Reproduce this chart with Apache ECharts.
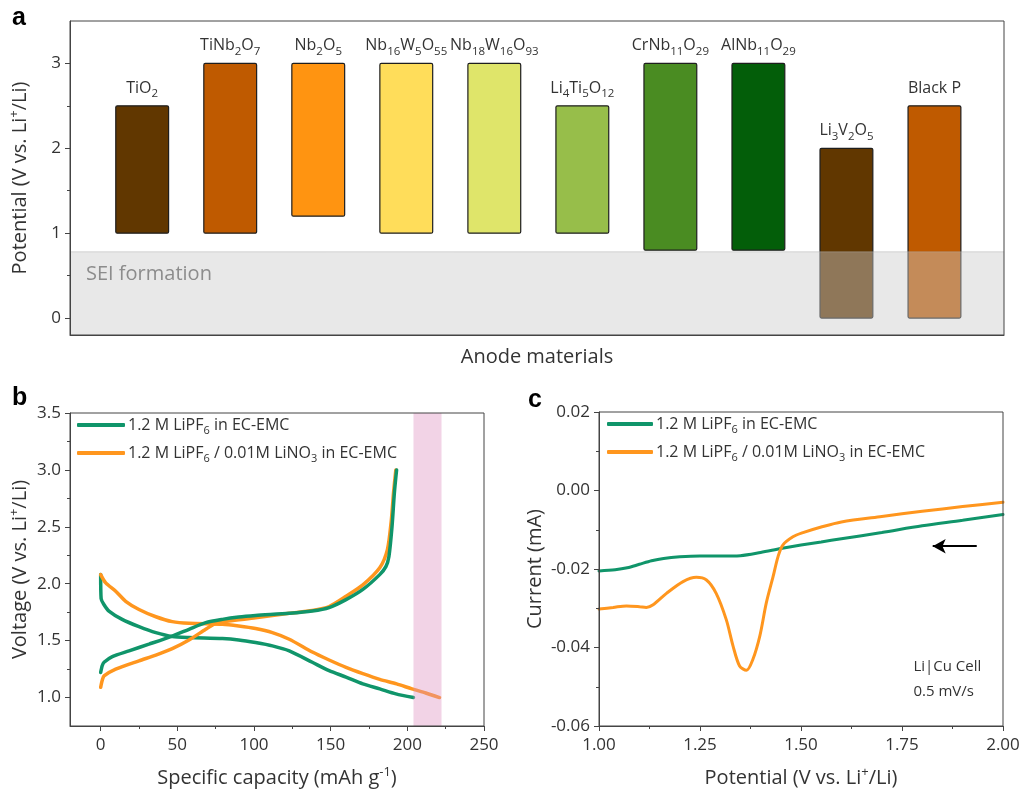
<!DOCTYPE html>
<html><head><meta charset="utf-8">
<script src="https://cdn.jsdelivr.net/npm/echarts@6/dist/echarts.min.js"></script>
<style>html,body{margin:0;padding:0;background:#fff}#c{width:1035px;height:791px}</style>
</head><body><div id="c"></div>
<script>
// ---------- Panel a data ----------
const materials = ['TiO{s|2}', 'TiNb{s|2}O{s|7}', 'Nb{s|2}O{s|5}', 'Nb{s|16}W{s|5}O{s|55}', 'Nb{s|18}W{s|16}O{s|93}',
  'Li{s|4}Ti{s|5}O{s|12}', 'CrNb{s|11}O{s|29}', 'AlNb{s|11}O{s|29}', 'Li{s|3}V{s|2}O{s|5}', 'Black P'];
const potentialLow  = [1.0, 1.0, 1.2, 1.0, 1.0, 1.0, 0.8, 0.8, 0.0, 0.0];
const potentialHigh = [2.5, 3.0, 3.0, 3.0, 3.0, 2.5, 3.0, 3.0, 2.0, 2.5];
const barColors = ['#613700', '#BF5A00', '#FF9411', '#FFDD5A', '#DFE56A', '#97BE4A', '#4A8C22', '#035E09', '#613700', '#BF5A00'];
const seiRange = [-0.2, 0.78];
const yTicksA = [0, 1, 2, 3];
const yMinorA = [0.5, 1.5, 2.5];

// ---------- Panel b data ----------
const capGreenDis = [0, 0.3, 2, 5.4, 14, 25, 36, 46.7, 57.6, 79.4, 90, 101, 112, 123, 138, 149, 160, 171, 182, 192.5, 204];
const voltGreenDis = [2.08, 1.87, 1.82, 1.76, 1.687, 1.623, 1.57, 1.536, 1.527, 1.518, 1.506, 1.483, 1.454, 1.41, 1.31, 1.236, 1.18, 1.12, 1.076, 1.032, 1.0];
const capGreenChg = [0, 1, 2.2, 7.6, 18.5, 31.5, 46.7, 57.6, 68.5, 79.4, 90, 101, 123, 138, 149, 160, 171, 182, 186, 188, 190, 191.5, 193];
const voltGreenChg = [1.22, 1.28, 1.31, 1.36, 1.41, 1.469, 1.54, 1.60, 1.658, 1.687, 1.707, 1.72, 1.74, 1.76, 1.79, 1.86, 1.95, 2.08, 2.15, 2.24, 2.50, 2.79, 3.0];
const capOrangeDis = [0, 3.3, 9.8, 16.3, 25, 36, 46.7, 57.6, 79.4, 90, 101, 112, 123, 138, 149, 160, 171, 182, 193, 203, 212, 221];
const voltOrangeDis = [2.08, 2.007, 1.934, 1.846, 1.774, 1.71, 1.667, 1.652, 1.643, 1.628, 1.606, 1.57, 1.512, 1.40, 1.33, 1.265, 1.21, 1.16, 1.12, 1.076, 1.04, 1.0];
const capOrangeChg = [0, 1, 2.2, 9.8, 25, 36, 46.7, 57.6, 68.5, 75, 83.7, 101, 123, 138, 149, 160, 171, 182, 187, 189.5, 191, 192.5];
const voltOrangeChg = [1.09, 1.15, 1.19, 1.25, 1.323, 1.373, 1.43, 1.506, 1.60, 1.652, 1.672, 1.70, 1.74, 1.765, 1.80, 1.89, 1.99, 2.14, 2.30, 2.55, 2.80, 3.0];
const pinkBand = [204, 222.3];
const yTicksB = [1.0, 1.5, 2.0, 2.5, 3.0, 3.5];
const yMinorB = [1.25, 1.75, 2.25, 2.75, 3.25];
const xTicksB = [0, 50, 100, 150, 200, 250];
const xMinorB = [25, 75, 125, 175, 225];

// ---------- Panel c data ----------
const potGreen = [1.00, 1.04, 1.07, 1.10, 1.13, 1.16, 1.20, 1.25, 1.30, 1.35, 1.40, 1.45, 1.50, 1.55, 1.60, 1.70, 1.80, 1.90, 2.00];
const curGreen = [-0.0205, -0.0202, -0.0197, -0.0188, -0.0179, -0.0173, -0.0169, -0.0167, -0.0167, -0.0166, -0.0158, -0.0148, -0.0139, -0.0131, -0.0123, -0.0107, -0.0090, -0.0076, -0.0061];
const potOrange = [1.000, 1.035, 1.068, 1.100, 1.117, 1.134, 1.167, 1.208, 1.241, 1.266, 1.290, 1.315, 1.332, 1.348, 1.365, 1.381, 1.398, 1.414, 1.431, 1.443, 1.455, 1.480, 1.503, 1.550, 1.600, 1.700, 1.800, 1.900, 2.000];
const curOrange = [-0.0302, -0.0298, -0.0294, -0.0296, -0.0298, -0.0291, -0.0262, -0.0232, -0.0221, -0.0228, -0.0262, -0.0329, -0.0397, -0.0447, -0.0458, -0.0430, -0.0371, -0.0287, -0.0219, -0.0169, -0.0139, -0.0118, -0.0108, -0.0093, -0.0080, -0.0066, -0.0053, -0.0041, -0.0030];
const arrowFrom = [1.935, -0.0142];
const arrowTo = [1.826, -0.0142];
const cellNoteAt = [1.777, -0.048];

const nameA = '1.2 M LiPF6 in EC-EMC';
const nameB = '1.2 M LiPF6 / 0.01M LiNO3 in EC-EMC';

// ---------- styling ----------
const F = "'Open Sans', 'Noto Sans', sans-serif";
const GREEN = '#10956A', ORANGE = '#FF961E';
const AX = '#444', TXT = '#333';
const xMinA = 0.18, xMaxA = 10.79, yMinA = -0.2, yMaxA = 3.5;
const xMinB = -20, xMaxB = 250, yMinB = 0.75, yMaxB = 3.5;

const zip = (a, b) => a.map((v, i) => [v, b[i]]);
const supRich = { sup: { fontSize: 13, verticalAlign: 'top', lineHeight: 14, fontFamily: F, color: TXT } };
const subRich = { s: { fontSize: 11, lineHeight: 11, padding: [11, 0, 0, 0], fontFamily: F, color: TXT } };

const chart = echarts.init(document.getElementById('c'), null, { renderer: 'canvas' });

function mainAxis(extra) {
  return Object.assign({
    type: 'value', z: 6,
    axisLine: { show: true, onZero: false, lineStyle: { color: AX, width: 1 } },
    axisTick: { show: true, length: 5, lineStyle: { color: AX } },
    axisLabel: { color: TXT, fontSize: 17, fontFamily: F, margin: 9 },
    splitLine: { show: false },
    nameTextStyle: { color: TXT, fontSize: 20, fontFamily: F, lineHeight: 24, rich: supRich },
    nameLocation: 'middle'
  }, extra);
}
function minorAxis(extra) {
  return Object.assign({
    type: 'value', z: 6,
    axisLine: { show: false, onZero: false },
    axisLabel: { show: false },
    splitLine: { show: false }
  }, extra);
}

const option = {
  animation: false,
  backgroundColor: '#fff',
  grid: [
    { left: 70, top: 21, width: 934, height: 314, show: true, borderColor: AX, borderWidth: 1, z: 6 },
    { left: 70, top: 413, width: 414, height: 314, show: true, borderColor: AX, borderWidth: 1, z: 6 },
    { left: 599, top: 412, width: 404, height: 314, show: true, borderColor: AX, borderWidth: 1, z: 6 }
  ],
  xAxis: [
    mainAxis({ gridIndex: 0, position: 'bottom', min: xMinA, max: xMaxA, axisTick: { show: false }, axisLabel: { show: false },
      name: 'Anode materials', nameGap: 10, nameTextStyle: { color: TXT, fontSize: 20, fontFamily: F, lineHeight: 24 } }),
    mainAxis({ gridIndex: 1, position: 'bottom', min: xMinB, max: xMaxB,
      axisTick: { show: true, length: 5, lineStyle: { color: AX }, customValues: xTicksB },
      axisLabel: { color: TXT, fontSize: 17, fontFamily: F, margin: 11, customValues: xTicksB },
      name: 'Specific capacity (mAh g{sup|-1})', nameGap: 40 }),
    minorAxis({ gridIndex: 1, position: 'bottom', min: xMinB, max: xMaxB, axisTick: { show: true, length: 3, lineStyle: { color: AX }, customValues: xMinorB } }),
    mainAxis({ gridIndex: 2, position: 'bottom', min: 1, max: 2, interval: 0.25,
      minorTick: { show: true, splitNumber: 2, length: 3, lineStyle: { color: AX } },
      axisLabel: { color: TXT, fontSize: 17, fontFamily: F, margin: 11, formatter: v => v.toFixed(2) },
      name: 'Potential (V vs. Li{sup|+}/Li)', nameGap: 40 })
  ],
  yAxis: [
    mainAxis({ gridIndex: 0, position: 'left', min: yMinA, max: yMaxA,
      axisTick: { show: true, length: 5, lineStyle: { color: AX }, customValues: yTicksA },
      axisLabel: { color: TXT, fontSize: 17, fontFamily: F, margin: 9, customValues: yTicksA },
      name: 'Potential (V vs. Li{sup|+}/Li)', nameGap: 38 }),
    minorAxis({ gridIndex: 0, position: 'left', min: yMinA, max: yMaxA, axisTick: { show: true, length: 3, lineStyle: { color: AX }, customValues: yMinorA } }),
    mainAxis({ gridIndex: 1, position: 'left', min: yMinB, max: yMaxB,
      axisTick: { show: true, length: 5, lineStyle: { color: AX }, customValues: yTicksB },
      axisLabel: { color: TXT, fontSize: 17, fontFamily: F, margin: 9, customValues: yTicksB, formatter: v => v.toFixed(1) },
      name: 'Voltage (V vs. Li{sup|+}/Li)', nameGap: 38 }),
    minorAxis({ gridIndex: 1, position: 'left', min: yMinB, max: yMaxB, axisTick: { show: true, length: 3, lineStyle: { color: AX }, customValues: yMinorB } }),
    mainAxis({ gridIndex: 2, position: 'left', min: -0.06, max: 0.02, interval: 0.02,
      minorTick: { show: true, splitNumber: 2, length: 3, lineStyle: { color: AX } },
      axisLabel: { color: TXT, fontSize: 17, fontFamily: F, margin: 9, formatter: v => v.toFixed(2) },
      name: 'Current (mA)', nameGap: 48 })
  ],
  legend: [
    { left: 77, top: 414, orient: 'vertical', padding: 0, itemGap: 6, itemWidth: 48, itemHeight: 4, icon: 'roundRect',
      data: [nameA, nameB],
      formatter: n => n === nameA ? '1.2 M LiPF{s|6} in EC-EMC' : '1.2 M LiPF{s|6} / 0.01M LiNO{s|3} in EC-EMC',
      textStyle: { color: TXT, fontSize: 16, fontFamily: F, lineHeight: 20, padding: [0, 0, 0, -2], rich: subRich } },
    { left: 607, top: 413, orient: 'vertical', padding: 0, itemGap: 6, itemWidth: 46, itemHeight: 4, icon: 'roundRect',
      data: [nameA, nameB],
      formatter: n => n === nameA ? '1.2 M LiPF{s|6} in EC-EMC' : '1.2 M LiPF{s|6} / 0.01M LiNO{s|3} in EC-EMC',
      textStyle: { color: TXT, fontSize: 16, fontFamily: F, lineHeight: 20, padding: [0, 0, 0, -2], rich: subRich } }
  ],
  graphic: [
    { type: 'text', left: 12, top: 6, style: { text: 'a', font: 'bold 25px "Liberation Sans", Arial, sans-serif', fill: '#000' } },
    { type: 'text', left: 12, top: 386, style: { text: 'b', font: 'bold 25px "Liberation Sans", Arial, sans-serif', fill: '#000' } },
    { type: 'text', left: 528, top: 388, style: { text: 'c', font: 'bold 25px "Liberation Sans", Arial, sans-serif', fill: '#000' } }
  ],
  series: [
    // Panel a: floating bars
    {
      type: 'custom', xAxisIndex: 0, yAxisIndex: 0, z: 2, clip: false,
      data: materials.map((m, i) => [i + 1, potentialLow[i], potentialHigh[i]]),
      encode: { x: 0, y: [1, 2] },
      renderItem: (params, api) => {
        const i = params.dataIndex;
        const x = api.value(0);
        const top = api.coord([x, api.value(2)]);
        const bot = api.coord([x, api.value(1)]);
        const w = api.size([0.6, 0])[0];
        return {
          type: 'group', children: [
            { type: 'rect', shape: { x: top[0] - w / 2, y: top[1], width: w, height: bot[1] - top[1], r: 1.5 },
              style: { fill: barColors[i], stroke: '#1e1e1e', lineWidth: 1.2 } },
            { type: 'text', x: top[0], y: top[1] - 7.5,
              style: { text: materials[i], align: 'center', verticalAlign: 'bottom', fontSize: 16, fontFamily: F,
                fill: TXT, lineHeight: 20, rich: { s: { fontSize: 11.5, lineHeight: 12, padding: [11, 0, 0, 0], fontFamily: F, fill: TXT } } } }
          ]
        };
      }
    },
    // Panel a: SEI formation region (semi-transparent overlay)
    {
      type: 'custom', xAxisIndex: 0, yAxisIndex: 0, z: 4, clip: false, silent: true,
      data: [[1, seiRange[0], seiRange[1]]],
      encode: { x: 0, y: [1, 2] },
      renderItem: (params, api) => {
        const tl = api.coord([xMinA, api.value(2)]);
        const br = api.coord([xMaxA, api.value(1)]);
        const lab = api.coord([xMinA, (api.value(2) + 0.26) / 2]);
        return {
          type: 'group', children: [
            { type: 'rect', shape: { x: tl[0], y: tl[1], width: br[0] - tl[0], height: br[1] - tl[1] },
              style: { fill: 'rgba(202,202,202,0.44)' } },
            { type: 'line', shape: { x1: tl[0], y1: tl[1], x2: br[0], y2: tl[1] },
              style: { stroke: 'rgba(170,170,170,0.45)', lineWidth: 1 } },
            { type: 'text', x: lab[0] + 16, y: lab[1],
              style: { text: 'SEI formation', fill: '#8c8c8c', fontSize: 20, fontFamily: F, verticalAlign: 'middle' } }
          ]
        };
      }
    },
    // Panel b: galvanostatic curves
    { name: nameA, type: 'line', xAxisIndex: 1, yAxisIndex: 2, data: zip(capGreenDis, voltGreenDis), showSymbol: false, smooth: 0.25,
      lineStyle: { color: GREEN, width: 3.5, cap: 'round' }, itemStyle: { color: GREEN }, z: 2 },
    { name: nameA, type: 'line', xAxisIndex: 1, yAxisIndex: 2, data: zip(capGreenChg, voltGreenChg), showSymbol: false, smooth: 0.25,
      lineStyle: { color: GREEN, width: 3.5, cap: 'round' }, itemStyle: { color: GREEN }, z: 3 },
    { name: nameB, type: 'line', xAxisIndex: 1, yAxisIndex: 2, data: zip(capOrangeDis, voltOrangeDis), showSymbol: false, smooth: 0.25,
      lineStyle: { color: ORANGE, width: 3.5, cap: 'round' }, itemStyle: { color: ORANGE }, z: 2 },
    { name: nameB, type: 'line', xAxisIndex: 1, yAxisIndex: 2, data: zip(capOrangeChg, voltOrangeChg), showSymbol: false, smooth: 0.25,
      lineStyle: { color: ORANGE, width: 3.5, cap: 'round' }, itemStyle: { color: ORANGE }, z: 2 },
    // Panel b: pink band
    {
      type: 'custom', xAxisIndex: 1, yAxisIndex: 2, z: 5, silent: true, clip: false,
      data: [[pinkBand[0], pinkBand[1]]],
      encode: { x: [0, 1] },
      renderItem: (params, api) => {
        const tl = api.coord([api.value(0), yMaxB]);
        const br = api.coord([api.value(1), yMinB]);
        return { type: 'rect', shape: { x: tl[0], y: tl[1], width: br[0] - tl[0], height: br[1] - tl[1] },
          style: { fill: 'rgba(222,145,192,0.4)' } };
      }
    },
    // Panel c: CV curves
    { name: nameA, type: 'line', xAxisIndex: 3, yAxisIndex: 4, data: zip(potGreen, curGreen), showSymbol: false, smooth: 0.3,
      lineStyle: { color: GREEN, width: 3, cap: 'round' }, itemStyle: { color: GREEN }, z: 2,
      markLine: {
        silent: true, symbol: ['none', 'arrow'], symbolSize: [11, 13], label: { show: false },
        lineStyle: { color: '#000', width: 2, type: 'solid' },
        data: [[{ coord: arrowFrom }, { coord: arrowTo }]]
      },
      markPoint: {
        silent: true, symbol: 'circle', symbolSize: 1, itemStyle: { color: 'rgba(0,0,0,0)' },
        label: { show: true, position: 'right', distance: 0, formatter: 'Li|Cu Cell\n0.5 mV/s', color: TXT,
          fontSize: 15, fontFamily: F, lineHeight: 25, align: 'left' },
        data: [{ coord: cellNoteAt }]
      }
    },
    { name: nameB, type: 'line', xAxisIndex: 3, yAxisIndex: 4, data: zip(potOrange, curOrange), showSymbol: false, smooth: 0.3,
      lineStyle: { color: ORANGE, width: 3, cap: 'round' }, itemStyle: { color: ORANGE }, z: 2 }
  ]
};
chart.setOption(option);
</script>
</body></html>
